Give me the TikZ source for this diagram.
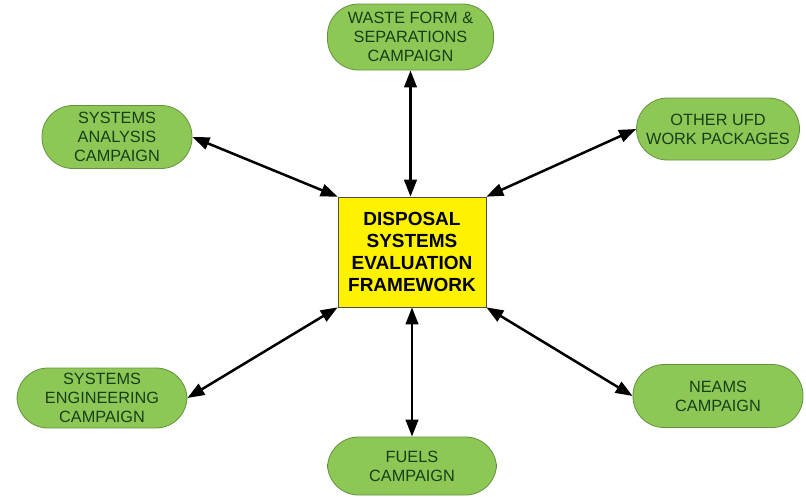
\documentclass[tikz,border=0pt]{standalone}
\usepackage{fontspec}
\setmainfont{Liberation Sans}
\usetikzlibrary{arrows.meta}
\usetikzlibrary{positioning}

\definecolor{pillgreen}{RGB}{141,200,86}
\definecolor{pilledge}{RGB}{98,146,60}
\definecolor{pilltext}{RGB}{24,62,24}

\begin{document}
\begin{tikzpicture}
  [x=1pt,y=-1pt,
  pill/.style={draw=pilledge,fill=pillgreen,line width=0.8pt,rounded corners=31pt,
    minimum width=166pt,minimum height=63pt,inner sep=2pt,align=center,
    text=pilltext,font=\fontsize{16.3}{19}\selectfont},
  framebox/.style={draw=black!70,fill=yellow,line width=0.6pt,minimum width=148pt,
    minimum height=110pt,align=center,font=\fontsize{19}{22}\selectfont\bfseries},
  link/.style={{Triangle[length=17pt,width=12.5pt]}-{Triangle[length=17pt,width=12.5pt]},line width=2.5pt}]
  \useasboundingbox (0,0) rectangle (806,496);

  % centre box
  \node[framebox] (frame) at (412,252) {DISPOSAL\\SYSTEMS\\EVALUATION\\FRAMEWORK};

  % campaigns around it
  \node[pill,minimum height=66pt] (waste) at (410.5,37) {WASTE FORM \&\\SEPARATIONS\\CAMPAIGN};
  \node[pill,minimum width=150pt] (analysis) at (117,137) {SYSTEMS\\ANALYSIS\\CAMPAIGN};
  \node[pill,minimum width=163pt,minimum height=62pt] (other) at (718,129) {OTHER UFD\\WORK PACKAGES};
  \node[pill,minimum width=170pt,minimum height=60pt] (engineering) at (102,398) {SYSTEMS\\ENGINEERING\\CAMPAIGN};
  \node[pill,minimum width=169pt,minimum height=58pt] (fuels) at (412,466) {FUELS\\CAMPAIGN};
  \node[pill,minimum width=170pt] (neams) at (718,396) {NEAMS\\CAMPAIGN};

  % two-way links
  \draw[link] (waste.south) -- (waste.south |- frame.north);
  \draw[link] (analysis.east) -- (frame.north west);
  \draw[link] (other.west) -- (frame.north east);
  \draw[link] (engineering.east) -- (frame.south west);
  \draw[link] (fuels.north) -- (frame.south);
  \draw[link] (neams.west) -- (frame.south east);
\end{tikzpicture}
\end{document}
